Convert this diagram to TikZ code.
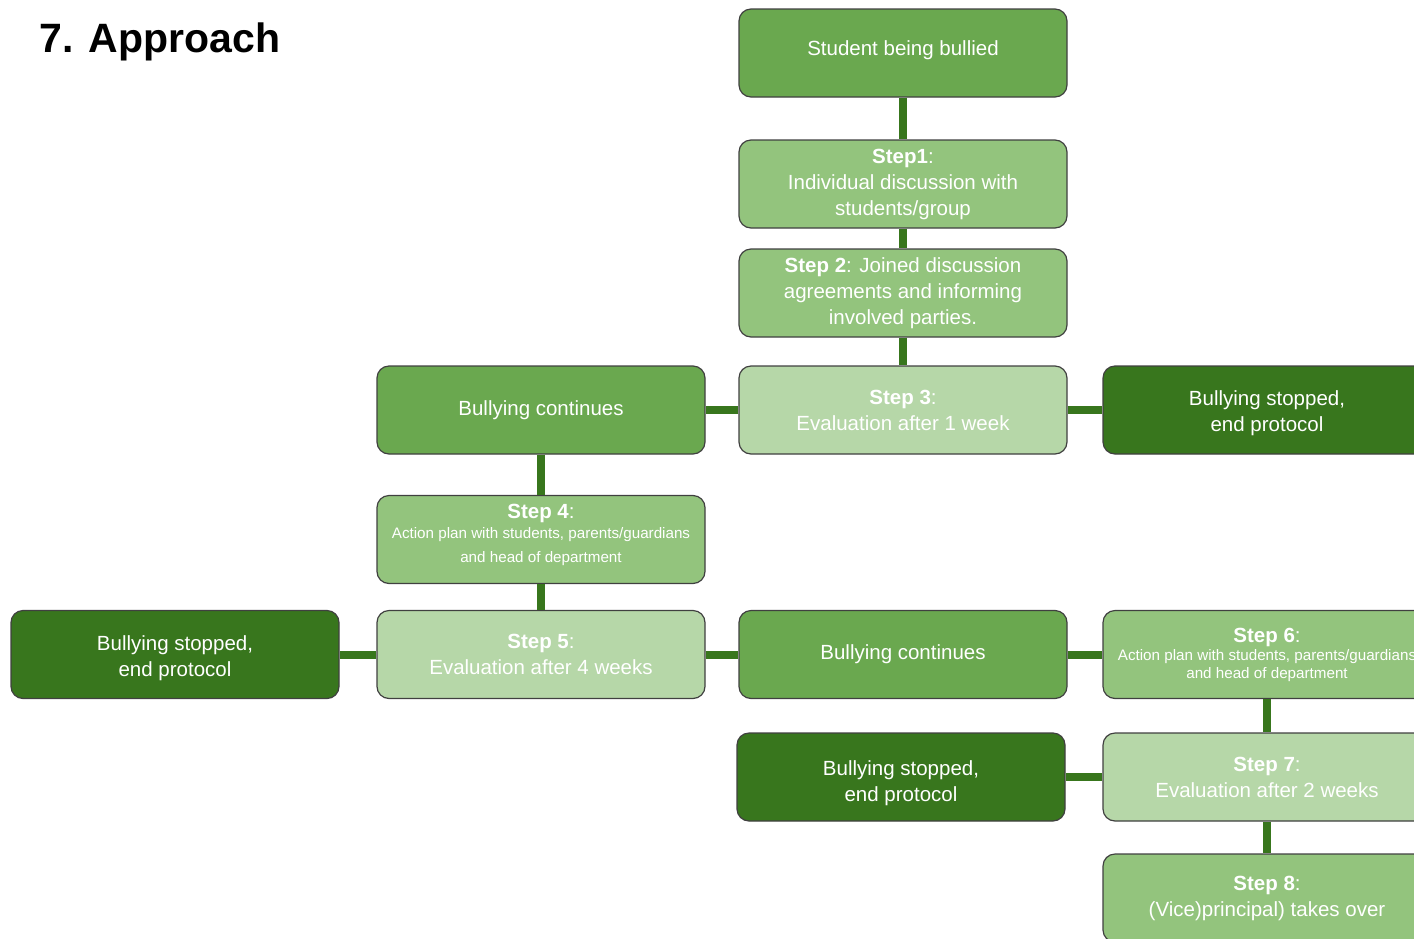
\documentclass[tikz,border=0pt]{standalone}
\usepackage{fontspec}
\setmainfont{Liberation Sans}
\usepackage{xcolor}
\usepackage{tikz}
\usetikzlibrary{positioning}
\definecolor{gmid}{HTML}{6AA84F}
\definecolor{glight}{HTML}{93C47D}
\definecolor{gpale}{HTML}{B6D7A8}
\definecolor{gdark}{HTML}{38761D}
\newcommand{\linkcolor}{gdark}
\newcommand{\smalltext}{\fontsize{15.2}{24}\selectfont}
\newcommand{\steplabel}[1]{{\fontsize{20.5}{22}\selectfont\textbf{#1}:}}
% struts to nudge text inside a box
\newcommand{\uplift}[1]{\rule[-#1]{0pt}{#1}}
\newcommand{\downlift}[1]{\rule{0pt}{#1}}

\begin{document}
\begin{tikzpicture}[x=1pt, y=-1pt]
	\tikzstyle{stepc}=[rectangle, rounded corners=12pt, draw=black!75, line width=1.2pt, minimum width=328pt, minimum height=88pt, inner sep=0pt, align=center, text=white, font=\fontsize{20.5}{26}\selectfont]
	\tikzstyle{link}=[draw=\linkcolor, line width=8pt]
	\clip (0,0) rectangle (1414,938);
	\node (title) at (36,52) [anchor=base west, font=\bfseries\fontsize{41}{46}\selectfont]{7. Approach};
	
	\node (bullied) at (903,53) [stepc, fill=gmid]{Student being bullied\uplift{10pt}};
	\node (s1) at (903,184) [stepc, fill=glight]{\textbf{Step1}:\\Individual discussion with\\students/group};
	\node (s2) at (903,293) [stepc, fill=glight]{\textbf{Step 2}: Joined discussion\\agreements and informing\\involved parties.};
	\node (s3) at (903,410) [stepc, fill=gpale]{\textbf{Step 3}:\\Evaluation after 1 week};
	\node (cont1) at (541,410) [stepc, fill=gmid]{Bullying continues};
	\node (stop1) at (1267,410) [stepc, fill=gdark]{\downlift{22pt}Bullying stopped,\\end protocol};
	
	\node (s4) at (541,539.5) [stepc, fill=glight, font=\smalltext]{\steplabel{Step 4}\\[-4pt]Action plan with students, parents/guardians\\and head of department\uplift{12pt}};
	\node (s5) at (541,654.5) [stepc, fill=gpale]{\textbf{Step 5}:\\Evaluation after 4 weeks};
	\node (stop0) at (175,654.5) [stepc, fill=gdark]{\downlift{22pt}Bullying stopped,\\end protocol};
	\node (cont2) at (903,654.5) [stepc, fill=gmid]{Bullying continues};
	\node (s6) at (1267,654.5) [stepc, fill=glight, font=\fontsize{15.2}{18}\selectfont]{\steplabel{Step 6}\\Action plan with students, parents/guardians\\and head of department};
	
	\node (stop2) at (901,777) [stepc, fill=gdark]{\downlift{28pt}Bullying stopped,\\end protocol};
	\node (s7) at (1267,777) [stepc, fill=gpale]{\textbf{Step 7}:\\Evaluation after 2 weeks};
	\node (s8) at (1267,898) [stepc, fill=glight]{\textbf{Step 8}:\\(Vice)principal) takes over};
	
	\draw[link] (bullied) -- (s1);
	\draw[link] (s1) -- (s2);
	\draw[link] (s2) -- (s3);
	\draw[link] (s3) -- (cont1);
	\draw[link] (s3) -- (stop1);
	\draw[link] (cont1) -- (s4);
	\draw[link] (s4) -- (s5);
	\draw[link] (s5) -- (stop0);
	\draw[link] (s5) -- (cont2);
	\draw[link] (cont2) -- (s6);
	\draw[link] (s6) -- (s7);
	\draw[link] (s7) -- (stop2);
	\draw[link] (s7) -- (s8);
\end{tikzpicture}
\end{document}
